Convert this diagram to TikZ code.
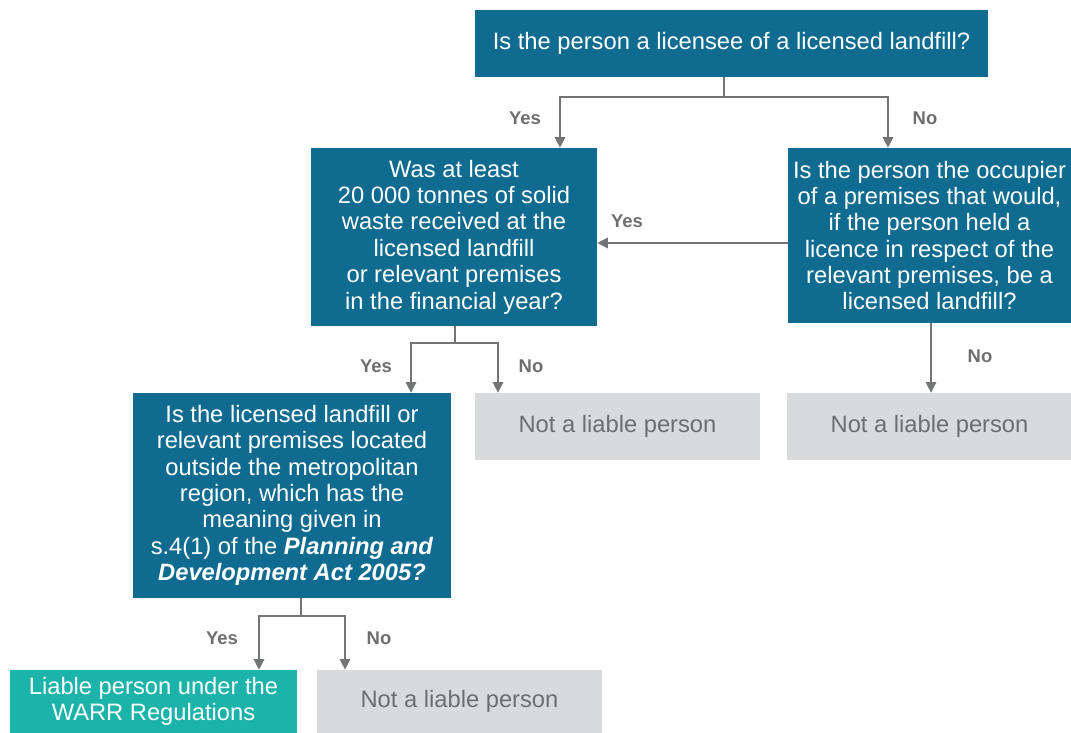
\documentclass[tikz,border=0pt]{standalone}
\usepackage{fontspec}
\setmainfont{Liberation Sans}
\usetikzlibrary{arrows.meta}
\definecolor{qblue}{HTML}{0F6B8F}
\definecolor{okgreen}{HTML}{1BB3AA}
\definecolor{nogrey}{HTML}{D9DADB}
\definecolor{txtgrey}{HTML}{6D6E70}
\definecolor{lngrey}{HTML}{737476}
\begin{document}
\begin{tikzpicture}[x=0.02cm,y=-0.02cm,
    every node/.style={font=\fontsize{13.5}{15}\selectfont,align=center,inner sep=0pt},
    question/.style={fill=qblue,text=white},
    notliable/.style={fill=nogrey,text=txtgrey,minimum width=5.72cm,minimum height=1.34cm},
    answer/.style={text=txtgrey,font=\fontsize{10.5}{12}\selectfont\bfseries},
    flow/.style={draw=lngrey,line width=0.85pt,-{Triangle[width=6pt,length=6pt]}},
    link/.style={draw=lngrey,line width=0.85pt}]
  \useasboundingbox (0,0) rectangle (1071,733);
  % boxes
  \node[question,minimum width=10.26cm,minimum height=1.34cm] (licensee) at (731.5,43.5)
    {Is the person a licensee of a licensed landfill?};
  \node[question,minimum width=5.72cm,minimum height=3.56cm] (tonnes) at (454,237)
    {Was at least\\20 000 tonnes of solid\\waste received at the\\licensed landfill\\or relevant premises\\in the financial year?};
  \node[question,minimum width=5.66cm,minimum height=3.5cm] (occupier) at (929.5,235.5)
    {Is the person the occupier\\of a premises that would,\\if the person held a\\licence in respect of the\\relevant premises, be a\\licensed landfill?};
  \node[question,minimum width=6.36cm,minimum height=4.1cm] (outside) at (292,495.5)
    {Is the licensed landfill or\\relevant premises located\\outside the metropolitan\\region, which has the\\meaning given in\\s.4(1) of the \textit{\bfseries Planning and}\\\textit{\bfseries Development Act 2005?}};
  \node[notliable] (notA) at (617.5,426.5) {Not a liable person};
  \node[notliable] (notB) at (929.5,426.5) {Not a liable person};
  \node[notliable,minimum height=1.26cm] (notC) at (459.5,701.5) {Not a liable person};
  \node[fill=okgreen,text=white,minimum width=5.74cm,minimum height=1.26cm] (liable) at (153.5,701.5)
    {Liable person under the\\WARR Regulations};
  % branch points
  \coordinate (s1) at (724,97);
  \coordinate (s2) at (455,343);
  \coordinate (s3) at (301,616);
  % connectors
  \draw[link] (licensee.south -| s1) -- (s1);
  \draw[flow] (s1) -| (tonnes.north -| 560,0);
  \draw[flow] (s1) -| (occupier.north -| 888,0);
  \draw[flow] (occupier.west |- 0,243) -- (tonnes.east |- 0,243);
  \draw[flow] (occupier.south -| 931,0) -- (notB.north -| 931,0);
  \draw[link] (tonnes.south -| s2) -- (s2);
  \draw[flow] (s2) -| (outside.north -| 411,0);
  \draw[flow] (s2) -| (notA.north -| 498,0);
  \draw[link] (outside.south -| s3) -- (s3);
  \draw[flow] (s3) -| (liable.north -| 259,0);
  \draw[flow] (s3) -| (notC.north -| 345,0);
  % answers
  \node[answer] (y1) at (525,118) {Yes};
  \node[answer] (n1) at (925,118) {No};
  \node[answer] (y2) at (627,221) {Yes};
  \node[answer] (n2) at (980,356) {No};
  \node[answer] (y3) at (376,366) {Yes};
  \node[answer] (n3) at (531,366) {No};
  \node[answer] (y4) at (222,638) {Yes};
  \node[answer] (n4) at (379,638) {No};
\end{tikzpicture}
\end{document}
